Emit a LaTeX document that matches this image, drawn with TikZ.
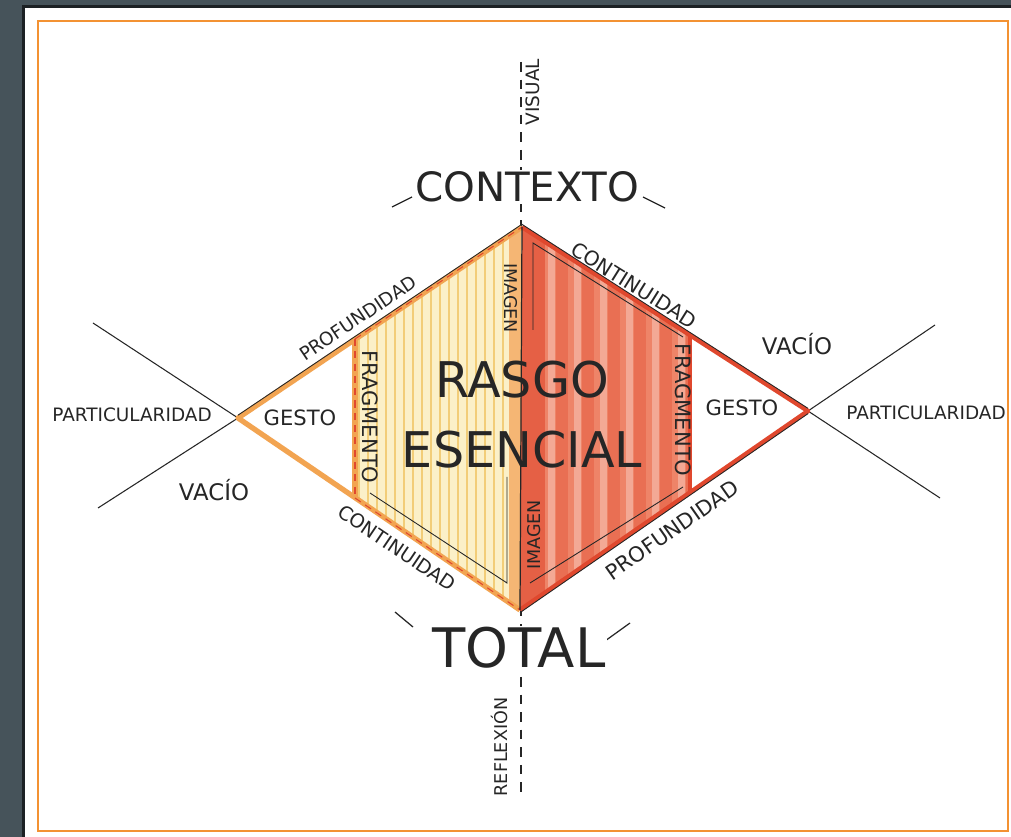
\documentclass[tikz,border=0pt]{standalone}
\usepackage{fontspec}
\setmainfont{DejaVu Sans}
\usepackage{xcolor}
\usetikzlibrary{positioning}
\definecolor{slate}{HTML}{46535A}
\definecolor{frame}{HTML}{F39233}
\definecolor{ochre}{HTML}{F2A451}
\definecolor{paleyel}{HTML}{FBF0C8}
\definecolor{stripeyel}{HTML}{F2CD78}
\definecolor{brick}{HTML}{E0482E}
\definecolor{salmon}{HTML}{EE8468}
\definecolor{ink}{HTML}{262626}
\newcommand\fsz[1]{\fontsize{#1}{#1}\selectfont}

\begin{document}
\begin{tikzpicture}[x=0.02cm,y=-0.02cm,
  lbl/.style={text=ink,inner sep=0pt},
  axisline/.style={ink,line width=0.6pt,dash pattern=on 5.5pt off 4.5pt},
  crossline/.style={ink,line width=0.6pt},
  tick/.style={ink,line width=0.7pt},
  inkline/.style={ink,line width=0.5pt},
  ochreedge/.style={ochre,line width=3pt,line join=round},
  brickedge/.style={brick,line width=2.6pt,line join=round},
  reddash/.style={brick,line width=0.6pt,dash pattern=on 4pt off 3pt}]
  \useasboundingbox (0,0) rectangle (1011,837);
  % page
  \fill[slate] (0,0) rectangle (1011,837);
  \fill[black!60!slate] (22,5) rectangle (1011,837);
  \fill[white] (25,8) rectangle (1011,837);
  \draw[frame,line width=1.2pt] (38,21) rectangle (1008,831);

  % corners of the diamond
  \coordinate (top) at (522,227);
  \coordinate (bot) at (520,610);
  \coordinate (L)   at (238,418);
  \coordinate (R)   at (808,411);
  \coordinate (lu)  at (355,339);
  \coordinate (ld)  at (355,498);
  \coordinate (ru)  at (690,335);
  \coordinate (rd)  at (690,492);
  \coordinate (axtop) at (521,62);
  \coordinate (axbot) at (521,797);
  \coordinate (xl1) at (93,323);
  \coordinate (xl2) at (98,508);
  \coordinate (xr1) at (935,325);
  \coordinate (xr2) at (940,498);

  % vertical axis and the cross
  \draw[axisline] (axtop) -- (axbot);
  \draw[crossline] (xl1) -- (L);
  \draw[crossline] (xl2) -- (L);
  \draw[crossline] (R) -- (xr1);
  \draw[crossline] (R) -- (xr2);

  % yellow half
  \fill[paleyel] (L) -- (top) -- (bot) -- cycle;
  \begin{scope}
    \clip (L) -- (top) -- (bot) -- cycle;
    \foreach \x in {242,251,...,520}
      \draw[stripeyel,line width=1pt] (\x,220) -- (\x,615);
    \fill[ochre!80] (509,220) rectangle (521,615);
  \end{scope}
  % red half
  \fill[salmon] (top) -- (R) -- (bot) -- cycle;
  \begin{scope}
    \clip (top) -- (R) -- (bot) -- cycle;
    \fill[brick,opacity=.6] (520,220) rectangle (545,620);
    \foreach \x in {556,582,...,700}
      \fill[brick,opacity=.35] (\x,220) rectangle ++(12,400);
    \foreach \x in {548,574,...,700}
      \fill[white,opacity=.3] (\x,220) rectangle ++(7,400);
  \end{scope}
  % gesto triangles
  \fill[white] (L) -- (lu) -- (ld) -- cycle;
  \fill[white] (R) -- (ru) -- (rd) -- cycle;

  % edges
  \draw[ochreedge] (top) -- (L) -- (bot);
  \draw[ochreedge] (lu) -- (ld);
  \draw[reddash] (lu) -- (top);
  \draw[reddash] (ld) -- (bot);
  \draw[reddash] (lu) -- (ld);
  \draw[inkline] ([yshift=1.6pt]L) -- ([yshift=1.6pt]top);
  \draw[brickedge] (top) -- (R) -- (bot);
  \draw[brickedge] (ru) -- (rd);
  \draw[inkline] ([yshift=1.5pt]top) -- ([yshift=1.5pt]R);
  \draw[inkline] ([yshift=-1.5pt]bot) -- ([yshift=-1.5pt]R);
  \draw[inkline,line width=0.7pt] (top) -- (bot);

  % inner lines
  \coordinate (il1) at (370,493);
  \coordinate (il2) at (507,583);
  \coordinate (il3) at (507,477);
  \coordinate (ir1) at (533,330);
  \coordinate (ir2) at (533,243);
  \coordinate (ir3) at (683,337);
  \coordinate (ir4) at (530,583);
  \coordinate (ir5) at (683,487);
  \draw[inkline] (il1) -- (il2) -- (il3);
  \draw[inkline] (ir1) -- (ir2) -- (ir3);
  \draw[inkline] (ir4) -- (ir5);

  % ticks beside the titles
  \draw[tick] (392,207) -- (412,197);
  \draw[tick] (643,197) -- (665,208);
  \draw[tick] (395,612) -- (413,627);
  \draw[tick] (605,641) -- (630,623);

  % labels
  \node[lbl,font=\fsz{23},fill=white,inner sep=1pt] (contexto) at (527,187) {CONTEXTO};
  \node[lbl,font=\fsz{31},fill=white,inner sep=1pt] (total) at (519,648) {TOTAL};
  \node[lbl,font=\fsz{10.5},rotate=90] (visual) at (533,92) {VISUAL};
  \node[lbl,font=\fsz{10},rotate=90] (reflexion) at (499,747) {REFLEXIÓN};
  \node[lbl,font=\fsz{28}] (rasgo) at (522,380) {RASGO};
  \node[lbl,font=\fsz{28}] (esencial) [below=18pt of rasgo] {ESENCIAL};
  \node[lbl,font=\fsz{10.5}] (partl) at (132,415) {PARTICULARIDAD};
  \node[lbl,font=\fsz{10.5}] (partr) at (926,413) {PARTICULARIDAD};
  \node[lbl,font=\fsz{13}] (vaciol) at (214,490) {VACÍO};
  \node[lbl,font=\fsz{13}] (vacior) at (797,344) {VACÍO};
  \node[lbl,font=\fsz{12}] (gestol) at (300,418) {GESTO};
  \node[lbl,font=\fsz{12}] (gestor) at (742,408) {GESTO};
  \node[lbl,font=\fsz{10.5},rotate=34] (profl) at (358,318) {PROFUNDIDAD};
  \node[lbl,font=\fsz{11.5},rotate=-32] (contr) at (634,285) {CONTINUIDAD};
  \node[lbl,font=\fsz{11},rotate=-34] (contl) at (397,548) {CONTINUIDAD};
  \node[lbl,font=\fsz{12},rotate=35] (profr) at (672,530) {PROFUNDIDAD};
  \node[lbl,font=\fsz{12},rotate=-90] (fragl) at (370,417) {FRAGMENTO};
  \node[lbl,font=\fsz{12},rotate=-90] (fragr) at (683,410) {FRAGMENTO};
  \node[lbl,font=\fsz{10},rotate=-90] (imagu) at (511,298) {IMAGEN};
  \node[lbl,font=\fsz{10},rotate=90] (imagd) at (534,535) {IMAGEN};
\end{tikzpicture}
\end{document}
